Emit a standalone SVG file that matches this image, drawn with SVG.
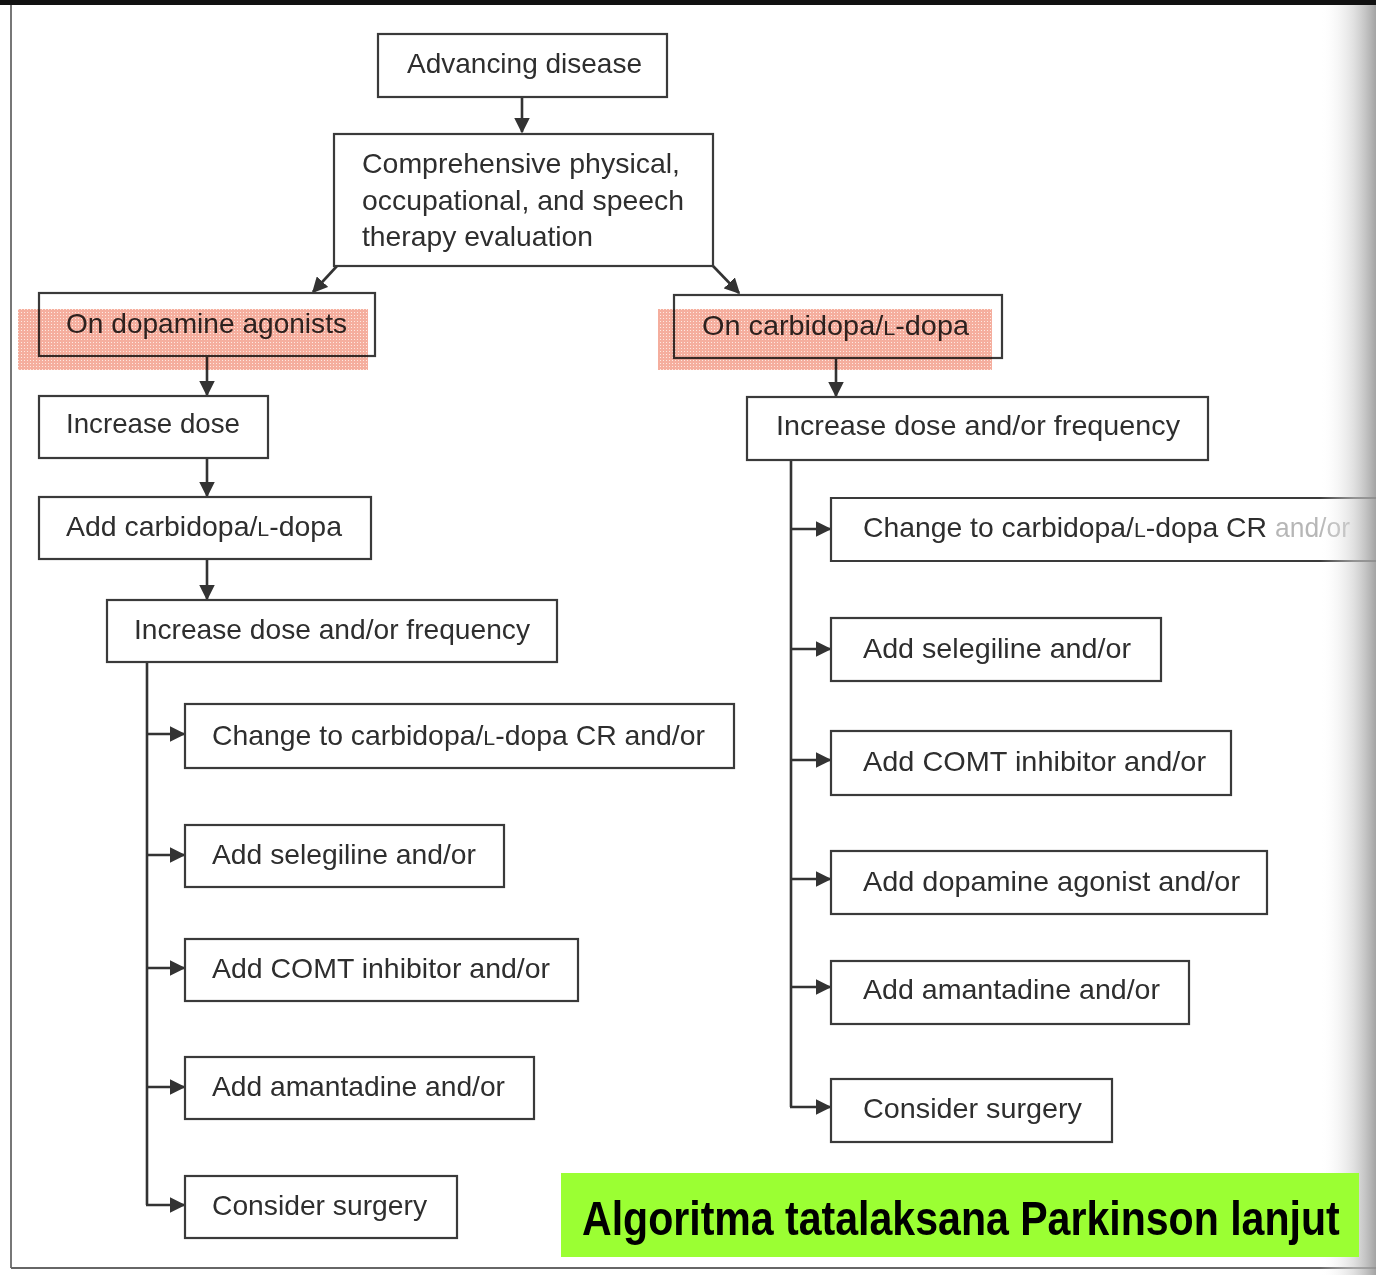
<svg xmlns="http://www.w3.org/2000/svg" width="1376" height="1275" viewBox="0 0 1376 1275">
<style>
.box{fill:#fff;stroke:#3a3a3a;stroke-width:2.2}
.t{font-family:"Liberation Sans",Arial,sans-serif;font-size:28px;fill:#2e2e2e}
.sc{font-size:21px}
.ln{stroke:#333;stroke-width:2.6;fill:none}
.hl{mix-blend-mode:multiply}
.title{font-family:"Liberation Sans",Arial,sans-serif;font-size:48px;font-weight:bold;fill:#000}
</style>
<defs>
<marker id="ah" viewBox="0 0 10 10" refX="9" refY="5" markerWidth="6" markerHeight="6" markerUnits="strokeWidth" orient="auto">
<path d="M0,0 L10,5 L0,10 z" fill="#333"/>
</marker>
<pattern id="dots" width="3" height="3" patternUnits="userSpaceOnUse">
<rect width="3" height="3" fill="#f39a86"/>
<rect width="1" height="1" fill="#fde2da"/>
</pattern>
<linearGradient id="shadow" x1="0" y1="0" x2="1" y2="0">
<stop offset="0" stop-color="#fff" stop-opacity="0"/>
<stop offset="0.6" stop-color="#ccc" stop-opacity="0.6"/>
<stop offset="1" stop-color="#999" stop-opacity="0.9"/>
</linearGradient>
</defs>
<rect width="1376" height="1275" fill="#fff"/>
<rect x="0" y="0" width="1376" height="5" fill="#111"/>
<line x1="11" y1="5" x2="11" y2="1268" stroke="#777" stroke-width="2"/>
<line x1="11" y1="1268" x2="1376" y2="1268" stroke="#666" stroke-width="2"/>

<g id="connectors">
<line class="ln" x1="522" y1="97" x2="522" y2="132" marker-end="url(#ah)"/>
<line class="ln" x1="337" y1="266" x2="313" y2="292" marker-end="url(#ah)"/>
<line class="ln" x1="713" y1="266" x2="739" y2="293" marker-end="url(#ah)"/>
<line class="ln" x1="207" y1="356" x2="207" y2="395" marker-end="url(#ah)"/>
<line class="ln" x1="207" y1="458" x2="207" y2="496" marker-end="url(#ah)"/>
<line class="ln" x1="207" y1="559" x2="207" y2="599" marker-end="url(#ah)"/>
<line class="ln" x1="147" y1="662" x2="147" y2="1205"/>
<line class="ln" x1="147" y1="734" x2="184" y2="734" marker-end="url(#ah)"/>
<line class="ln" x1="147" y1="855" x2="184" y2="855" marker-end="url(#ah)"/>
<line class="ln" x1="147" y1="968" x2="184" y2="968" marker-end="url(#ah)"/>
<line class="ln" x1="147" y1="1087" x2="184" y2="1087" marker-end="url(#ah)"/>
<line class="ln" x1="146" y1="1205" x2="184" y2="1205" marker-end="url(#ah)"/>
<line class="ln" x1="836" y1="358" x2="836" y2="396" marker-end="url(#ah)"/>
<line class="ln" x1="791" y1="460" x2="791" y2="1107"/>
<line class="ln" x1="791" y1="529" x2="830" y2="529" marker-end="url(#ah)"/>
<line class="ln" x1="791" y1="649" x2="830" y2="649" marker-end="url(#ah)"/>
<line class="ln" x1="791" y1="760" x2="830" y2="760" marker-end="url(#ah)"/>
<line class="ln" x1="791" y1="879" x2="830" y2="879" marker-end="url(#ah)"/>
<line class="ln" x1="791" y1="987" x2="830" y2="987" marker-end="url(#ah)"/>
<line class="ln" x1="790" y1="1107" x2="830" y2="1107" marker-end="url(#ah)"/>
</g>

<g id="n-advancing"><rect class="box" x="378" y="34" width="289" height="63"/>
<text class="t" x="407" y="73" textLength="235" lengthAdjust="spacingAndGlyphs">Advancing disease</text></g>
<g id="n-eval"><rect class="box" x="334" y="134" width="379" height="132"/>
<text class="t" x="362" y="173" textLength="318" lengthAdjust="spacingAndGlyphs">Comprehensive physical,</text>
<text class="t" x="362" y="210" textLength="322" lengthAdjust="spacingAndGlyphs">occupational, and speech</text>
<text class="t" x="362" y="246" textLength="231" lengthAdjust="spacingAndGlyphs">therapy evaluation</text></g>

<g id="n-dopag"><rect class="box" x="39" y="293" width="336" height="63"/>
<text class="t" x="66" y="333" textLength="281" lengthAdjust="spacingAndGlyphs">On dopamine agonists</text>
<rect class="hl" x="18" y="309" width="350" height="61" fill="url(#dots)" opacity="0.8"/></g>
<g id="n-incdose"><rect class="box" x="39" y="396" width="229" height="62"/>
<text class="t" x="66" y="433" textLength="174" lengthAdjust="spacingAndGlyphs">Increase dose</text></g>
<g id="n-addcarb"><rect class="box" x="39" y="497" width="332" height="62"/>
<text class="t" x="66" y="536" textLength="276" lengthAdjust="spacingAndGlyphs">Add carbidopa/<tspan class="sc">L</tspan>-dopa</text></g>
<g id="n-incfreq-l"><rect class="box" x="107" y="600" width="450" height="62"/>
<text class="t" x="134" y="639" textLength="396" lengthAdjust="spacingAndGlyphs">Increase dose and/or frequency</text></g>
<g id="n-cr-l"><rect class="box" x="185" y="704" width="549" height="64"/>
<text class="t" x="212" y="745" textLength="493" lengthAdjust="spacingAndGlyphs">Change to carbidopa/<tspan class="sc">L</tspan>-dopa CR and/or</text></g>
<g id="n-sel-l"><rect class="box" x="185" y="825" width="319" height="62"/>
<text class="t" x="212" y="864" textLength="264" lengthAdjust="spacingAndGlyphs">Add selegiline and/or</text></g>
<g id="n-comt-l"><rect class="box" x="185" y="939" width="393" height="62"/>
<text class="t" x="212" y="978" textLength="338" lengthAdjust="spacingAndGlyphs">Add COMT inhibitor and/or</text></g>
<g id="n-aman-l"><rect class="box" x="185" y="1057" width="349" height="62"/>
<text class="t" x="212" y="1096" textLength="293" lengthAdjust="spacingAndGlyphs">Add amantadine and/or</text></g>
<g id="n-surg-l"><rect class="box" x="185" y="1176" width="272" height="62"/>
<text class="t" x="212" y="1215" textLength="215" lengthAdjust="spacingAndGlyphs">Consider surgery</text></g>

<g id="n-oncarb"><rect class="box" x="674" y="295" width="328" height="63"/>
<text class="t" x="702" y="335" textLength="267" lengthAdjust="spacingAndGlyphs">On carbidopa/<tspan class="sc">L</tspan>-dopa</text>
<rect class="hl" x="658" y="309" width="334" height="61" fill="url(#dots)" opacity="0.8"/></g>
<g id="n-incfreq-r"><rect class="box" x="747" y="397" width="461" height="63"/>
<text class="t" x="776" y="435" textLength="404" lengthAdjust="spacingAndGlyphs">Increase dose and/or frequency</text></g>
<g id="n-cr-r"><path class="box" d="M1376,498 H831 V561 H1376" />
<text class="t" x="863" y="537" textLength="404" lengthAdjust="spacingAndGlyphs">Change to carbidopa/<tspan class="sc">L</tspan>-dopa CR</text>
<text class="t" x="1275" y="537" textLength="75" lengthAdjust="spacingAndGlyphs" fill-opacity="0.35">and/or</text></g>
<g id="n-sel-r"><rect class="box" x="831" y="618" width="330" height="63"/>
<text class="t" x="863" y="658" textLength="268" lengthAdjust="spacingAndGlyphs">Add selegiline and/or</text></g>
<g id="n-comt-r"><rect class="box" x="831" y="731" width="400" height="64"/>
<text class="t" x="863" y="771" textLength="343" lengthAdjust="spacingAndGlyphs">Add COMT inhibitor and/or</text></g>
<g id="n-dopag-r"><rect class="box" x="831" y="851" width="436" height="63"/>
<text class="t" x="863" y="891" textLength="377" lengthAdjust="spacingAndGlyphs">Add dopamine agonist and/or</text></g>
<g id="n-aman-r"><rect class="box" x="831" y="961" width="358" height="63"/>
<text class="t" x="863" y="999" textLength="297" lengthAdjust="spacingAndGlyphs">Add amantadine and/or</text></g>
<g id="n-surg-r"><rect class="box" x="831" y="1079" width="281" height="63"/>
<text class="t" x="863" y="1118" textLength="219" lengthAdjust="spacingAndGlyphs">Consider surgery</text></g>

<rect x="1320" y="5" width="56" height="1270" fill="url(#shadow)"/>

<g id="label"><rect x="561" y="1173" width="798" height="84" fill="#9bff33"/>
<text class="title" transform="translate(582,1235) scale(0.76,1)" x="0" y="0" textLength="997" lengthAdjust="spacingAndGlyphs">Algoritma tatalaksana Parkinson lanjut</text></g>
</svg>
